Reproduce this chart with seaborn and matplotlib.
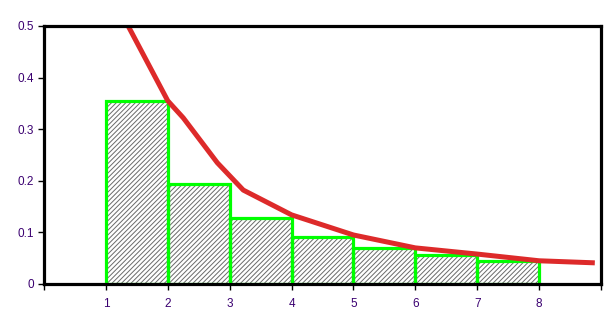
import matplotlib
matplotlib.use("Agg")
import matplotlib.pyplot as plt
import seaborn as sns
import numpy as np
import pandas as pd

# Data
bin_edges = [1, 2, 3, 4, 5, 6, 7, 8]
bar_heights = [0.355, 0.194, 0.128, 0.091, 0.070, 0.056, 0.045]
curve_x = [1.36, 2.0, 2.25, 2.8, 3.22, 4.0, 5.0, 6.0, 7.0, 8.0, 8.9]
curve_y = [0.5, 0.355, 0.322, 0.235, 0.182, 0.134, 0.095, 0.070, 0.058, 0.045, 0.041]
x_ticks = [0, 1, 2, 3, 4, 5, 6, 7, 8, 9]
x_labels = ["", "1", "2", "3", "4", "5", "6", "7", "8", ""]
y_ticks = [0, 0.1, 0.2, 0.3, 0.4, 0.5]
y_labels = ["0", "0.1", "0.2", "0.3", "0.4", "0.5"]

sns.set_style("white")
plt.rcParams['font.family'] = ['Liberation Sans', 'DejaVu Sans']
plt.rcParams['hatch.color'] = '#6a6a6a'
plt.rcParams['hatch.linewidth'] = 0.7

fig = plt.figure(figsize=(6.14, 3.27), dpi=100)
ax = fig.add_axes([44/614, 1-284/327, (601-44)/614, (284-26)/327])

df = pd.DataFrame({"x": [e + 0.5 for e in bin_edges[:-1]], "w": bar_heights})

# hatched fill
sns.histplot(data=df, x="x", weights="w", bins=bin_edges, stat="count",
             ax=ax, color="white", edgecolor="#6a6a6a", linewidth=0,
             hatch="///////", alpha=1)
# green outlines
sns.histplot(data=df, x="x", weights="w", bins=bin_edges, stat="count",
             ax=ax, fill=False, color="#00ff00", edgecolor="#00ff00",
             linewidth=2.3)

sns.lineplot(x=curve_x, y=curve_y, ax=ax, color="#dd2a2a", linewidth=3.6,
             solid_capstyle="butt", clip_on=True)

ax.set_xlim(0, 9)
ax.set_ylim(0, 0.5)
ax.set_xticks(x_ticks)
ax.set_xticklabels(x_labels)
ax.set_yticks(y_ticks)
ax.set_yticklabels(y_labels)
ax.set_xlabel("")
ax.set_ylabel("")
for s in ax.spines.values():
    s.set_visible(True)
    s.set_color("black")
    s.set_linewidth(2.3)
ax.tick_params(axis="both", which="both", direction="out", length=4, width=1,
               color="black", labelcolor="#3a0070", labelsize=8.5, pad=3,
               bottom=True, left=True)
ax.tick_params(axis="x", pad=6)

fig.savefig("out.png", dpi=100, facecolor="white")
